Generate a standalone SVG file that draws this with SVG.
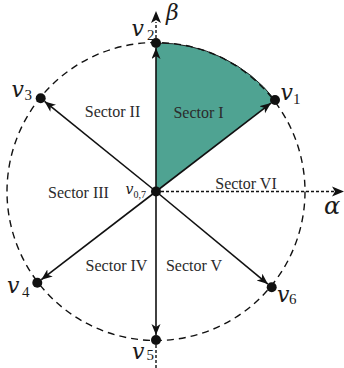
<svg xmlns="http://www.w3.org/2000/svg" width="344" height="368" viewBox="0 0 344 368">
  <style>
    .sec { font-family: "Liberation Serif", "Times New Roman", serif; font-size: 16px; fill: #2b2b2b; text-anchor: middle; }
    .v { font-family: "DejaVu Serif", "Liberation Serif", serif; font-style: italic; font-size: 22px; fill: #1a1a1a; }
    .sub { font-family: "Liberation Serif", "Times New Roman", serif; font-size: 15px; fill: #1a1a1a; }
    .greek { font-family: "DejaVu Serif", "Liberation Serif", serif; font-style: italic; font-size: 22px; fill: #1a1a1a; }
    .vec { stroke: #111; stroke-width: 1.6; fill: none; marker-end: url(#ah); }
    .axis { stroke: #111; stroke-width: 1.4; stroke-dasharray: 3 2; fill: none; }
    .dot { fill: #111; }
  </style>
  <defs>
    <marker id="ah" markerUnits="userSpaceOnUse" markerWidth="12" markerHeight="10" refX="11" refY="4.5" orient="auto">
      <path d="M0,0 L11,4.5 L0,9 L3,4.5 Z" fill="#111"/>
    </marker>
  </defs>

  <g id="sector-I-fill">
    <path d="M156,191.5 L156,43 A149,149 0 0,1 275,100 Z" fill="#4fa392" stroke="none"/>
    <path d="M156,43 A149,149 0 0,1 275,100" fill="none" stroke="#222" stroke-width="1"/>
  </g>

  <g id="circle">
    <circle cx="156" cy="191.5" r="149" fill="none" stroke="#111" stroke-width="1.4" stroke-dasharray="7 5"/>
  </g>

  <g id="axes">
    <line class="axis" x1="156" y1="191.5" x2="334" y2="191.5"/>
    <path d="M344,191.5 L332,186.5 L335,191.5 L332,196.5 Z" fill="#111"/>
    <line class="axis" x1="156" y1="43" x2="156" y2="22"/>
    <path d="M156,11 L151,23 L156,20 L161,23 Z" fill="#111"/>
    <line class="axis" x1="156" y1="340" x2="156" y2="368"/>
  </g>

  <g id="connectors">
    <line class="vec" x1="156" y1="191.5" x2="271" y2="103.1"/>
    <line class="vec" x1="156" y1="191.5" x2="156" y2="48"/>
    <line class="vec" x1="156" y1="191.5" x2="44.6" y2="101.4"/>
    <line class="vec" x1="156" y1="191.5" x2="41.3" y2="279.7"/>
    <line class="vec" x1="156" y1="191.5" x2="156" y2="335"/>
    <line class="vec" x1="156" y1="191.5" x2="267.9" y2="284.1"/>
  </g>

  <g id="v0">
    <circle class="dot" cx="156" cy="191.5" r="5"/>
    <text class="v" x="125.5" y="193.5" style="font-size:14px">v</text>
    <text class="sub" x="133.5" y="198" style="font-size:10px">0,7</text>
  </g>
  <g id="v1">
    <circle class="dot" cx="275" cy="100" r="5"/>
    <text class="v" x="280.5" y="100">v</text>
    <text class="sub" x="293" y="104">1</text>
  </g>
  <g id="v2">
    <circle class="dot" cx="156" cy="43" r="5"/>
    <text class="v" x="131.5" y="35.5">v</text>
    <text class="sub" x="147" y="40">2</text>
  </g>
  <g id="v3">
    <circle class="dot" cx="40.7" cy="98.3" r="5"/>
    <text class="v" x="11.5" y="97">v</text>
    <text class="sub" x="24.5" y="99.5">3</text>
  </g>
  <g id="v4">
    <circle class="dot" cx="37.3" cy="282.7" r="5"/>
    <text class="v" x="7" y="293">v</text>
    <text class="sub" x="22" y="297">4</text>
  </g>
  <g id="v5">
    <circle class="dot" cx="156" cy="340" r="5"/>
    <text class="v" x="132" y="358.5">v</text>
    <text class="sub" x="146.5" y="359.5">5</text>
  </g>
  <g id="v6">
    <circle class="dot" cx="271.7" cy="287.3" r="5"/>
    <text class="v" x="277" y="302">v</text>
    <text class="sub" x="289" y="303.5">6</text>
  </g>

  <g id="alpha"><text class="greek" x="324" y="213.5" style="font-size:24px">α</text></g>
  <g id="beta"><text class="greek" x="166" y="20">β</text></g>

  <g id="labels">
    <text class="sec" x="198.5" y="118">Sector I</text>
    <text class="sec" x="112.5" y="116.5">Sector II</text>
    <text class="sec" x="78.5" y="197.5">Sector III</text>
    <text class="sec" x="116.5" y="270.5">Sector IV</text>
    <text class="sec" x="194" y="270.5">Sector V</text>
    <text class="sec" x="246" y="189">Sector VI</text>
  </g>
</svg>
